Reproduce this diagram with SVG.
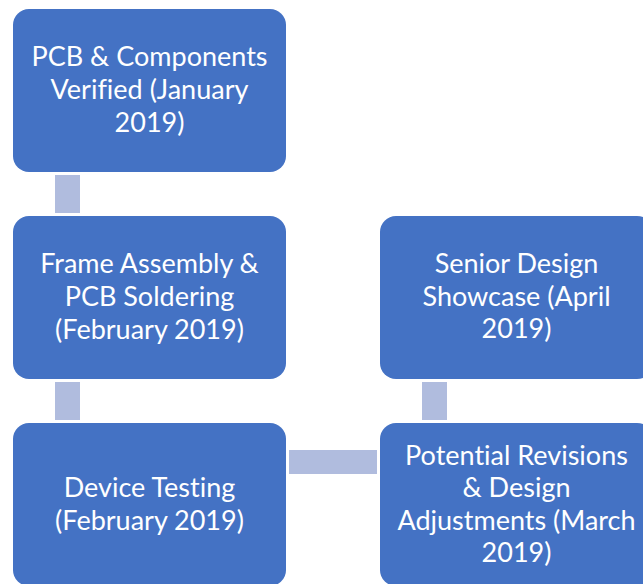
<svg xmlns="http://www.w3.org/2000/svg" width="643" height="584" viewBox="0 0 643 584">
<style>
.box{fill:#4472C4;}
.con{fill:#B0BCDE;}
.t{font-family:Lato,"Open Sans","Liberation Sans",sans-serif;font-size:27px;fill:#FFFFFF;text-anchor:middle;font-variant-ligatures:none;font-feature-settings:"liga" 0,"dlig" 0;}
</style>
<rect x="0" y="0" width="643" height="584" fill="#FFFFFF"/>
<g id="connectors">
<rect class="con" x="55" y="175" width="25" height="38"/>
<rect class="con" x="55" y="382" width="25" height="38"/>
<rect class="con" x="289" y="450" width="88" height="24"/>
<rect class="con" x="422" y="382" width="25" height="38"/>
</g>
<g id="node1">
<rect class="box" x="13" y="9" width="273" height="163" rx="16"/>
<text class="t" x="149.5" y="66">PCB &amp; Components</text>
<text class="t" x="149.5" y="99">Verified (January</text>
<text class="t" x="149.5" y="132">2019)</text>
</g>
<g id="node2">
<rect class="box" x="13" y="216" width="273" height="163" rx="16"/>
<text class="t" x="149.5" y="273">Frame Assembly &amp;</text>
<text class="t" x="149.5" y="306">PCB Soldering</text>
<text class="t" x="149.5" y="339">(February 2019)</text>
</g>
<g id="node3">
<rect class="box" x="13" y="423" width="273" height="163" rx="16"/>
<text class="t" x="149.5" y="497">Device Testing</text>
<text class="t" x="149.5" y="530">(February 2019)</text>
</g>
<g id="node4">
<rect class="box" x="380" y="216" width="273" height="163" rx="16"/>
<text class="t" x="516.5" y="273">Senior Design</text>
<text class="t" x="516.5" y="306">Showcase (April</text>
<text class="t" x="516.5" y="338">2019)</text>
</g>
<g id="node5">
<rect class="box" x="380" y="423" width="273" height="163" rx="16"/>
<text class="t" x="516.5" y="465">Potential Revisions</text>
<text class="t" x="516.5" y="497">&amp; Design</text>
<text class="t" x="516.5" y="530">Adjustments (March</text>
<text class="t" x="516.5" y="562">2019)</text>
</g>
</svg>
